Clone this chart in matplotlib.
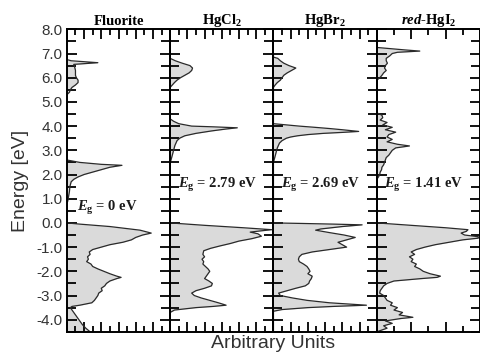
import matplotlib
matplotlib.use("Agg")
import matplotlib.pyplot as plt
from matplotlib.ticker import MultipleLocator, FormatStrFormatter

plt.rcParams["mathtext.fontset"] = "custom"
plt.rcParams["mathtext.rm"] = "Liberation Serif:bold"
plt.rcParams["mathtext.it"] = "Liberation Serif:italic:bold"
plt.rcParams["mathtext.bf"] = "Liberation Serif:bold"

# Density of states: (energy [eV], arbitrary units)
fluorite_e = [7.0, 6.75, 6.7, 6.62, 6.55, 6.45, 6.3, 6.1, 6.0, 5.9, 5.8, 5.7, 5.6, 5.5, 5.4, 5.3,
              2.6, 2.5, 2.42, 2.38, 2.3, 2.2, 2.1, 2.0, 1.9, 1.8, 1.7, 1.5, 1.3, 1.1, 0.9, 0.8,
              0.0, -0.05, -0.15, -0.3, -0.42, -0.5, -0.6, -0.7, -0.8, -0.9, -1.0, -1.1, -1.2, -1.3,
              -1.4, -1.5, -1.6, -1.7, -1.8, -1.9, -2.0, -2.1, -2.2, -2.25, -2.3, -2.4, -2.5, -2.6,
              -2.7, -2.8, -2.9, -3.0, -3.1, -3.2, -3.3, -3.4, -3.45, -3.5, -3.6, -3.8, -4.0, -4.2,
              -4.35, -4.5]
fluorite_dos = [0, 0, 0.5, 3.6, 0.8, 0.9, 1.0, 1.0, 1.1, 1.3, 1.3, 1.0, 0.6, 0.4, 0.3, 0,
                0, 1.5, 4.0, 6.4, 5.0, 4.0, 3.0, 2.0, 1.3, 0.8, 0.5, 0.35, 0.3, 0.2, 0.1, 0,
                0, 1.5, 5.0, 8.5, 9.8, 8.8, 8.0, 7.5, 6.5, 5.0, 4.0, 3.0, 2.6, 2.7,
                2.4, 2.5, 2.3, 2.8, 3.0, 3.6, 4.3, 5.0, 5.8, 6.3, 5.8, 5.0, 4.6, 4.4,
                4.0, 4.1, 3.7, 3.6, 3.4, 3.2, 2.9, 1.5, 0.6, 0.4, 0.6, 1.0, 1.4, 1.8,
                2.2, 2.7]

hgcl2_e = [7.0, 6.8, 6.7, 6.6, 6.5, 6.4, 6.3, 6.2, 6.1, 6.0, 5.9, 5.8, 5.7, 5.6,
           4.3, 4.2, 4.1, 4.0, 3.97, 3.93, 3.88, 3.8, 3.7, 3.6, 3.5, 3.4, 3.2, 3.0, 2.8, 2.6, 2.5,
           0.0, -0.1, -0.2, -0.28, -0.33, -0.38, -0.45, -0.55, -0.65, -0.75, -0.85, -0.95, -1.05,
           -1.15, -1.3, -1.4, -1.5, -1.6, -1.7, -1.8, -1.9, -2.0, -2.1, -2.2, -2.3, -2.4, -2.5,
           -2.6, -2.7, -2.8, -2.9, -3.0, -3.1, -3.2, -3.3, -3.4, -3.45, -3.5, -3.6, -3.7, -4.5]
hgcl2_dos = [0, 0, 0.6, 1.4, 2.3, 2.6, 2.5, 2.2, 1.7, 1.2, 0.8, 0.5, 0.25, 0,
             0, 0.4, 1.0, 2.5, 5.0, 7.8, 6.5, 4.8, 3.0, 1.7, 1.1, 0.8, 0.55, 0.4, 0.25, 0.1, 0,
             0, 4.0, 8.5, 11.8, 10.5, 9.3, 10.2, 10.6, 9.5, 8.0, 7.0, 5.8, 4.7,
             3.9, 3.8, 4.0, 3.7, 3.9, 3.8, 4.1, 4.4, 4.6, 4.4, 4.2, 4.0, 4.5, 4.9,
             4.8, 4.0, 3.0, 2.5, 2.8, 3.6, 4.6, 5.6, 6.5, 5.0, 3.0, 0.5, 0, 0]

hgbr2_e = [7.0, 6.85, 6.8, 6.7, 6.6, 6.5, 6.4, 6.3, 6.2, 6.1, 6.0, 5.9, 5.8, 5.7, 5.6,
           4.1, 4.05, 4.0, 3.95, 3.9, 3.85, 3.78, 3.74, 3.7, 3.65, 3.6, 3.55, 3.5, 3.4, 3.3, 3.1,
           2.9, 2.7, 2.5,
           0.0, -0.02, -0.05, -0.08, -0.15, -0.25, -0.3, -0.4, -0.5, -0.6, -0.7, -0.8, -0.9, -1.0,
           -1.1, -1.2, -1.3, -1.4, -1.5, -1.6, -1.7, -1.8, -1.9, -2.0, -2.1, -2.2, -2.3, -2.4,
           -2.5, -2.6, -2.7, -2.8, -2.9, -3.0, -3.1, -3.2, -3.3, -3.4, -3.45, -3.5, -3.58, -3.65,
           -4.5]
hgbr2_dos = [0, 0, 0.5, 0.8, 1.2, 1.8, 2.6, 2.1, 1.6, 1.2, 1.0, 0.8, 0.45, 0.2, 0,
             0, 1.5, 3.0, 4.8, 6.5, 8.0, 9.9, 8.0, 5.8, 4.0, 2.8, 2.0, 1.5, 1.0, 0.7, 0.45,
             0.3, 0.15, 0,
             0, 3.0, 7.0, 10.3, 8.0, 5.5, 4.9, 6.5, 8.2, 9.5, 8.5, 7.5, 8.0, 8.5,
             6.5, 4.5, 3.3, 3.0, 2.9, 3.0, 3.5, 3.9, 4.1, 4.25, 4.0, 4.5, 4.4, 4.2,
             4.1, 3.7, 2.6, 1.6, 0.6, 0.8, 2.2, 3.9, 6.5, 10.8, 7.0, 4.0, 1.0, 0,
             0]

hgi2_e = [7.5, 7.25, 7.2, 7.15, 7.1, 7.05, 7.0, 6.9, 6.8, 6.7, 6.6, 6.5, 6.4, 6.3, 6.2, 6.1,
          6.0, 5.9,
          4.55, 4.45, 4.35, 4.25, 4.15, 4.05, 3.95, 3.85, 3.75, 3.65, 3.55, 3.45, 3.35, 3.25,
          3.18, 3.1, 3.0, 2.9, 2.8, 2.7, 2.6, 2.5, 2.4, 2.3, 2.2, 2.1, 2.0, 1.9, 1.8,
          0.0, -0.1, -0.2, -0.28, -0.35, -0.42, -0.5, -0.57, -0.63, -0.7, -0.8, -0.9, -1.0,
          -1.1, -1.2, -1.3, -1.4, -1.5, -1.6, -1.7, -1.8, -1.9, -2.0, -2.1, -2.2, -2.25, -2.3,
          -2.4, -2.5, -2.6, -2.7, -2.8, -2.9, -3.0, -3.1, -3.2, -3.3, -3.4, -3.5, -3.6, -3.7,
          -3.8, -3.9, -3.95, -4.05, -4.15, -4.25, -4.35, -4.45, -4.5]
hgi2_dos = [0, 0, 0.8, 1.6, 2.5, 1.2, 0.9, 0.75, 0.55, 0.55, 0.62, 0.5, 0.45, 0.55, 0.4, 0.3,
            0.18, 0,
            0, 0.3, 0.35, 0.2, 0.6, 0.35, 0.9, 0.5, 1.1, 0.7, 0.6, 0.9, 0.6, 1.2,
            1.9, 1.1, 0.9, 0.8, 0.7, 0.55, 0.5, 0.45, 0.4, 0.3, 0.28, 0.2, 0.17, 0.1, 0,
            0, 2.0, 4.0, 5.3, 5.2, 4.9, 5.1, 5.9, 5.9, 5.0, 4.2, 3.4, 2.8,
            2.3, 2.0, 2.2, 1.9, 2.1, 2.0, 2.3, 2.2, 2.5, 2.7, 3.1, 3.7, 3.5, 2.6,
            1.0, 0.6, 0.4, 0.3, 0.2, 0.17, 0.4, 0.5, 0.6, 0.9, 0.8, 1.2, 1.0, 1.5,
            1.3, 2.1, 1.4, 0.5, 0.9, 0.4, 0.6, 0.2, 0]

titles = ["Fluorite", "HgCl$_2$", "HgBr$_2$", r"$\mathit{red}$-HgI$_2$"]
gap_labels = [r"$E_\mathrm{g}$ = 0 eV", r"$E_\mathrm{g}$ = 2.79 eV",
              r"$E_\mathrm{g}$ = 2.69 eV", r"$E_\mathrm{g}$ = 1.41 eV"]
gap_label_y = [0.6, 1.56, 1.56, 1.56]
x_max = [12, 12, 12, 6]

panels = [(fluorite_e, fluorite_dos), (hgcl2_e, hgcl2_dos),
          (hgbr2_e, hgbr2_dos), (hgi2_e, hgi2_dos)]

fig = plt.figure(figsize=(4.81, 3.53), dpi=100)
left, right, bottom, top = 0.139, 0.998, 0.060, 0.917
width = (right - left) / 4

axes = []
for i, (energy, dos) in enumerate(panels):
    ax = fig.add_axes([left + i * width, bottom, width, top - bottom])
    # transparent background so the neighbour's inward ticks stay visible
    ax.patch.set_visible(False)
    axes.append(ax)
    ax.fill_betweenx(energy, 0, dos, color="#dadada", lw=0, zorder=1)
    ax.plot(dos, energy, color="#2a2a2a", lw=0.9, zorder=2)
    ax.set_xlim(0, x_max[i])
    ax.set_ylim(-4.5, 8.0)

    ax.xaxis.set_major_locator(MultipleLocator(2))
    ax.xaxis.set_minor_locator(MultipleLocator(1))
    ax.yaxis.set_major_locator(MultipleLocator(1))
    ax.yaxis.set_minor_locator(MultipleLocator(0.5))
    ax.tick_params(axis="both", which="both", direction="in", top=True, right=True,
                   width=1.3, color="black")
    ax.tick_params(axis="x", which="major", length=7)
    ax.tick_params(axis="x", which="minor", length=4.3)
    ax.tick_params(axis="y", which="major", length=7)
    ax.tick_params(axis="y", which="minor", length=6.5)
    ax.set_xticklabels([])
    for sp in ax.spines.values():
        sp.set_linewidth(1.4)
        sp.set_color("black")
        sp.set_zorder(3)

    if i == 0:
        ax.yaxis.set_major_formatter(FormatStrFormatter("%.1f"))
        ax.tick_params(axis="y", which="major", labelsize=11, pad=3,
                       labelcolor="#333333")
    else:
        ax.set_yticklabels([])

    ax.set_title(titles[i], fontsize=10.5, fontweight="bold", family="Liberation Serif",
                 pad=3)
    ax.text(0.075 * x_max[i] if i else 0.1 * x_max[i], gap_label_y[i], gap_labels[i],
            fontsize=10.5, fontweight="bold", family="Liberation Serif",
            ha="left", va="center", color="#1a1a1a")

for lbl in axes[0].get_yticklabels():
    lbl.set_family("Liberation Sans")

fig.text(0.042, (bottom + top) / 2, "Energy [eV]", rotation=90, ha="center", va="center",
         fontsize=14, family="Liberation Sans", color="#333333")
fig.text((left + right) / 2, 0.028, "Arbitrary Units", ha="center", va="center",
         fontsize=14, family="Liberation Sans", color="#333333")

fig.savefig("out.png", dpi=100)
